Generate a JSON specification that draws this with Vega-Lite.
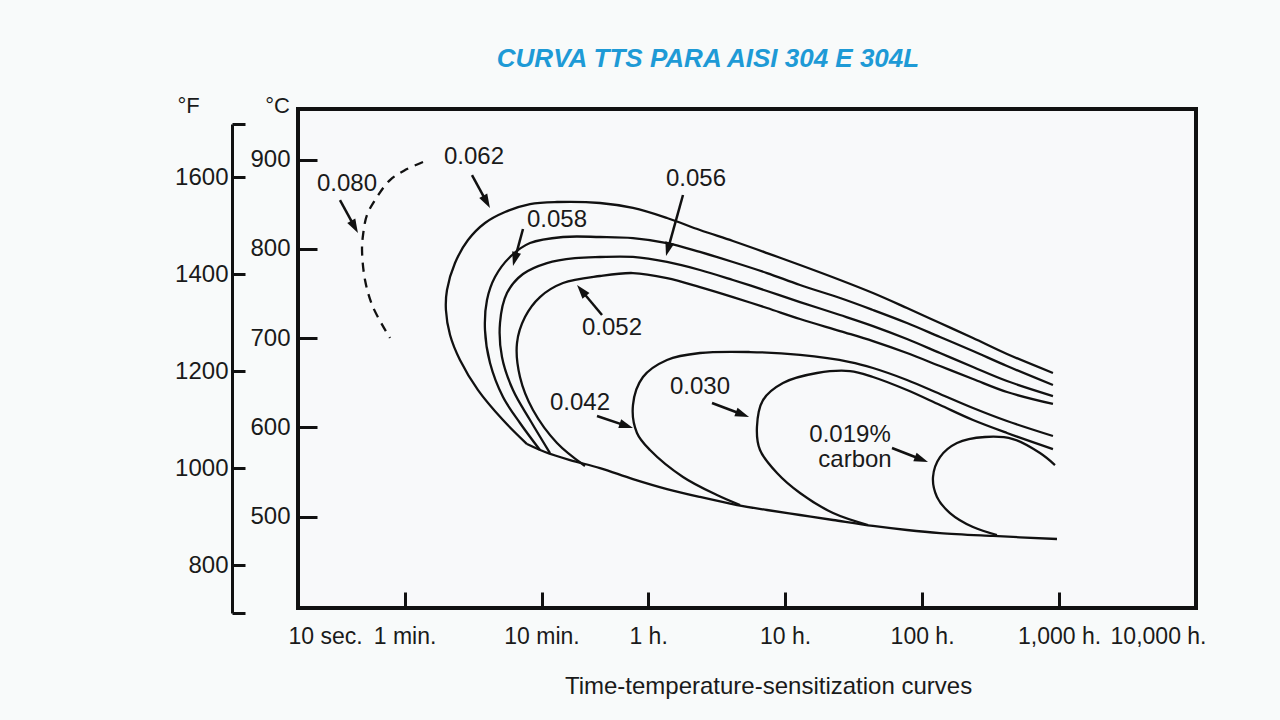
{
  "$schema": "https://vega.github.io/schema/vega-lite/v6.json",
  "autosize": {"type": "none"},
  "width": 898,
  "height": 499,
  "padding": {"left": 298, "top": 109, "right": 84, "bottom": 112},
  "background": "#f8fafa",
  "title": {
    "text": "CURVA TTS PARA AISI 304 E 304L",
    "font": "Liberation Sans",
    "fontSize": 26,
    "fontWeight": "bold",
    "fontStyle": "italic",
    "color": "#1e9ad6",
    "anchor": "middle",
    "frame": "group",
    "dx": -39,
    "offset": 22
  },
  "config": {
    "view": {"stroke": "#111111", "strokeWidth": 4, "fill": "#f8f9fa"},
    "font": "Liberation Sans"
  },
  "datasets": {
    "curves": [
      {"c":"0.062","i":1,"t":903,"T":660.8},{"c":"0.062","i":2,"t":417,"T":682.1},{"c":"0.062","i":3,"t":235.4,"T":700.0},{"c":"0.062","i":4,"t":135.2,"T":716.8},{"c":"0.062","i":5,"t":77.6,"T":733.6},{"c":"0.062","i":6,"t":43.8,"T":750.4},{"c":"0.062","i":7,"t":25.2,"T":765.0},{"c":"0.062","i":8,"t":12.85,"T":781.8},{"c":"0.062","i":9,"t":7.38,"T":795.2},{"c":"0.062","i":10,"t":4.16,"T":808.7},{"c":"0.062","i":11,"t":2.39,"T":821.0},{"c":"0.062","i":12,"t":1.373,"T":834.5},{"c":"0.062","i":13,"t":0.775,"T":845.7},{"c":"0.062","i":14,"t":0.4453,"T":851.3},{"c":"0.062","i":15,"t":0.2161,"T":852.4},{"c":"0.062","i":16,"t":0.1373,"T":850.1},{"c":"0.062","i":17,"t":0.0902,"T":841.2},{"c":"0.062","i":18,"t":0.0644,"T":828.9},{"c":"0.062","i":19,"t":0.0484,"T":809.8},{"c":"0.062","i":20,"t":0.0389,"T":784.0},{"c":"0.062","i":21,"t":0.0340,"T":753.8},{"c":"0.062","i":22,"t":0.0334,"T":731.4},{"c":"0.062","i":23,"t":0.0358,"T":703.4},{"c":"0.062","i":24,"t":0.0423,"T":675.4},{"c":"0.062","i":25,"t":0.0573,"T":641.7},{"c":"0.062","i":26,"t":0.0872,"T":608.1},{"c":"0.062","i":27,"t":0.1305,"T":581.2},
      {"c":"env","i":1,"t":0.1305,"T":581.2},{"c":"env","i":2,"t":0.1766,"T":572.3},{"c":"env","i":3,"t":0.2689,"T":563.3},{"c":"env","i":4,"t":0.4453,"T":554.3},{"c":"env","i":5,"t":0.775,"T":542.0},{"c":"env","i":6,"t":1.373,"T":530.8},{"c":"env","i":7,"t":2.39,"T":521.9},{"c":"env","i":8,"t":4.46,"T":512.9},{"c":"env","i":9,"t":7.38,"T":507.3},{"c":"env","i":10,"t":12.85,"T":501.7},{"c":"env","i":11,"t":22.4,"T":496.1},{"c":"env","i":12,"t":43.8,"T":489.4},{"c":"env","i":13,"t":77.6,"T":484.9},{"c":"env","i":14,"t":135.2,"T":481.5},{"c":"env","i":15,"t":329.5,"T":478.2},{"c":"env","i":16,"t":966,"T":474.8},
      {"c":"0.058","i":1,"t":903,"T":647.3},{"c":"0.058","i":2,"t":417,"T":668.6},{"c":"0.058","i":3,"t":235.4,"T":685.4},{"c":"0.058","i":4,"t":135.2,"T":701.1},{"c":"0.058","i":5,"t":77.6,"T":716.8},{"c":"0.058","i":6,"t":43.8,"T":731.4},{"c":"0.058","i":7,"t":25.2,"T":744.8},{"c":"0.058","i":8,"t":12.85,"T":759.4},{"c":"0.058","i":9,"t":7.38,"T":772.8},{"c":"0.058","i":10,"t":4.16,"T":785.2},{"c":"0.058","i":11,"t":2.39,"T":796.4},{"c":"0.058","i":12,"t":1.373,"T":806.4},{"c":"0.058","i":13,"t":0.775,"T":812.0},{"c":"0.058","i":14,"t":0.4453,"T":813.2},{"c":"0.058","i":15,"t":0.239,"T":813.2},{"c":"0.058","i":16,"t":0.1373,"T":806.4},{"c":"0.058","i":17,"t":0.0981,"T":790.8},{"c":"0.058","i":18,"t":0.0762,"T":768.3},{"c":"0.058","i":19,"t":0.0666,"T":742.6},{"c":"0.058","i":20,"t":0.0644,"T":709.0},{"c":"0.058","i":21,"t":0.0701,"T":672.0},{"c":"0.058","i":22,"t":0.0872,"T":633.9},{"c":"0.058","i":23,"t":0.116,"T":604.8},{"c":"0.058","i":24,"t":0.1623,"T":574.5},
      {"c":"0.056","i":1,"t":903,"T":635.0},{"c":"0.056","i":2,"t":417,"T":651.8},{"c":"0.056","i":3,"t":235.4,"T":667.5},{"c":"0.056","i":4,"t":135.2,"T":683.2},{"c":"0.056","i":5,"t":77.6,"T":698.9},{"c":"0.056","i":6,"t":43.8,"T":713.4},{"c":"0.056","i":7,"t":25.2,"T":725.8},{"c":"0.056","i":8,"t":12.85,"T":740.3},{"c":"0.056","i":9,"t":7.38,"T":752.7},{"c":"0.056","i":10,"t":4.16,"T":765.0},{"c":"0.056","i":11,"t":2.39,"T":776.2},{"c":"0.056","i":12,"t":1.373,"T":785.2},{"c":"0.056","i":13,"t":0.775,"T":790.8},{"c":"0.056","i":14,"t":0.4453,"T":790.8},{"c":"0.056","i":15,"t":0.2924,"T":789.6},{"c":"0.056","i":16,"t":0.1826,"T":784.0},{"c":"0.056","i":17,"t":0.122,"T":771.7},{"c":"0.056","i":18,"t":0.0932,"T":750.4},{"c":"0.056","i":19,"t":0.0829,"T":716.8},{"c":"0.056","i":20,"t":0.0857,"T":678.7},{"c":"0.056","i":21,"t":0.1031,"T":641.7},{"c":"0.056","i":22,"t":0.1373,"T":608.1},{"c":"0.056","i":23,"t":0.1921,"T":571.1},
      {"c":"0.052","i":1,"t":903,"T":626.1},{"c":"0.052","i":2,"t":417,"T":639.5},{"c":"0.052","i":3,"t":235.4,"T":654.1},{"c":"0.052","i":4,"t":135.2,"T":668.6},{"c":"0.052","i":5,"t":77.6,"T":683.2},{"c":"0.052","i":6,"t":43.8,"T":696.6},{"c":"0.052","i":7,"t":25.2,"T":707.8},{"c":"0.052","i":8,"t":12.85,"T":721.3},{"c":"0.052","i":9,"t":7.38,"T":733.6},{"c":"0.052","i":10,"t":4.16,"T":745.9},{"c":"0.052","i":11,"t":2.39,"T":757.1},{"c":"0.052","i":12,"t":1.373,"T":767.2},{"c":"0.052","i":13,"t":0.775,"T":772.8},{"c":"0.052","i":14,"t":0.4453,"T":769.5},{"c":"0.052","i":15,"t":0.239,"T":761.6},{"c":"0.052","i":16,"t":0.1623,"T":745.9},{"c":"0.052","i":17,"t":0.1262,"T":723.5},{"c":"0.052","i":18,"t":0.1103,"T":694.4},{"c":"0.052","i":19,"t":0.116,"T":656.3},{"c":"0.052","i":20,"t":0.1443,"T":619.3},{"c":"0.052","i":21,"t":0.2161,"T":582.4},{"c":"0.052","i":22,"t":0.3459,"T":556.6},
      {"c":"0.042","i":1,"t":903,"T":590.2},{"c":"0.042","i":2,"t":417,"T":607.0},{"c":"0.042","i":3,"t":235.4,"T":621.6},{"c":"0.042","i":4,"t":135.2,"T":637.3},{"c":"0.042","i":5,"t":77.6,"T":653.0},{"c":"0.042","i":6,"t":43.8,"T":666.4},{"c":"0.042","i":7,"t":29.8,"T":673.1},{"c":"0.042","i":8,"t":12.85,"T":681.0},{"c":"0.042","i":9,"t":5.54,"T":684.3},{"c":"0.042","i":10,"t":2.39,"T":683.2},{"c":"0.042","i":11,"t":1.373,"T":675.4},{"c":"0.042","i":12,"t":0.917,"T":656.3},{"c":"0.042","i":13,"t":0.775,"T":624.9},{"c":"0.042","i":14,"t":0.829,"T":593.6},{"c":"0.042","i":15,"t":1.032,"T":574.5},{"c":"0.042","i":16,"t":1.797,"T":544.3},{"c":"0.042","i":17,"t":3.18,"T":524.1},{"c":"0.042","i":18,"t":4.69,"T":512.9},
      {"c":"0.030","i":1,"t":903,"T":575.6},{"c":"0.030","i":2,"t":417,"T":593.6},{"c":"0.030","i":3,"t":235.4,"T":608.1},{"c":"0.030","i":4,"t":135.2,"T":624.9},{"c":"0.030","i":5,"t":77.6,"T":641.7},{"c":"0.030","i":6,"t":43.8,"T":656.3},{"c":"0.030","i":7,"t":29.8,"T":663.0},{"c":"0.030","i":8,"t":17.1,"T":660.8},{"c":"0.030","i":9,"t":9.65,"T":649.6},{"c":"0.030","i":10,"t":6.9,"T":630.5},{"c":"0.030","i":11,"t":6.23,"T":600.3},{"c":"0.030","i":12,"t":6.56,"T":574.5},{"c":"0.030","i":13,"t":8.73,"T":548.7},{"c":"0.030","i":14,"t":12.85,"T":526.3},{"c":"0.030","i":15,"t":22.4,"T":503.9},{"c":"0.030","i":16,"t":40.3,"T":490.5},
      {"c":"0.019","i":1,"t":934,"T":557.7},{"c":"0.019","i":2,"t":726,"T":571.1},{"c":"0.019","i":3,"t":461,"T":586.8},{"c":"0.019","i":4,"t":288.0,"T":589.1},{"c":"0.019","i":5,"t":179.9,"T":582.4},{"c":"0.019","i":6,"t":135.2,"T":566.6},{"c":"0.019","i":7,"t":120.2,"T":544.3},{"c":"0.019","i":8,"t":128.5,"T":521.9},{"c":"0.019","i":9,"t":159.9,"T":503.9},{"c":"0.019","i":10,"t":235.4,"T":488.2},{"c":"0.019","i":11,"t":352.4,"T":479.3},
      {"c":"0.080","i":1,"t":0.02272,"T":897.2},{"c":"0.080","i":2,"t":0.01679,"T":888.2},{"c":"0.080","i":3,"t":0.01304,"T":877.0},{"c":"0.080","i":4,"t":0.01048,"T":858.0},{"c":"0.080","i":5,"t":0.00886,"T":837.8},{"c":"0.080","i":6,"t":0.00829,"T":815.4},{"c":"0.080","i":7,"t":0.00815,"T":798.6},{"c":"0.080","i":8,"t":0.00857,"T":765.0},{"c":"0.080","i":9,"t":0.0098,"T":734.7},{"c":"0.080","i":10,"t":0.01304,"T":700.0}
    ],
    "arrows": [
      {"c":"0.080","t0":0.005627,"T0":854.6,"t":0.007195,"T":824.5,"dir":151.4},
      {"c":"0.062","t0":0.05177,"T0":882.6,"t":0.06616,"T":852.5,"dir":151.4},
      {"c":"0.058","t0":0.122,"T0":822.1,"t":0.1063,"T":788.3,"dir":195.1},
      {"c":"0.056","t0":1.797,"T0":860.2,"t":1.3941,"T":799.4,"dir":195.6},
      {"c":"0.052","t0":0.4606,"T0":725.8,"t":0.32631,"T":753.3,"dir":320.2},
      {"c":"0.042","t0":0.4233,"T0":612.6,"t":0.69368,"T":601.6,"dir":108.4},
      {"c":"0.030","t0":2.926,"T0":627.2,"t":4.8869,"T":614.3,"dir":110.7},
      {"c":"0.019","t0":60.32,"T0":576.8,"t":99.04,"T":563.9,"dir":111.3}
    ],
    "labels": [
      {"label":"0.080","t":0.00633,"T":872.5},
      {"label":"0.062","t":0.05355,"T":902.8},
      {"label":"0.056","t":2.236,"T":878.2},
      {"label":"0.058","t":0.2161,"T":832.2},
      {"label":"0.052","t":0.545,"T":711.2},
      {"label":"0.042","t":0.3181,"T":627.2},
      {"label":"0.030","t":2.39,"T":645.1},
      {"label":"0.019%","t":29.8,"T":591.3},
      {"label":"carbon","t":32.38,"T":563.3}
    ],
    "fticks": [{"F": 702}, {"F": 1710}]
  },
  "layer": [
    {
      "encoding": {
        "x": {
          "field": "t",
          "type": "quantitative",
          "scale": {"type": "log", "domain": [0.0027778, 10000], "nice": false},
          "axis": {
            "values": [0.0027778, 0.0166667, 0.1666667, 1, 10, 100, 1000, 10000],
            "labelExpr": "datum.value < 0.01 ? '10 sec.' : datum.value < 0.1 ? '1 min.' : datum.value < 0.5 ? '10 min.' : datum.value < 5 ? '1 h.' : datum.value < 50 ? '10 h.' : datum.value < 500 ? '100 h.' : datum.value < 5000 ? '1,000 h.' : '10,000 h.'",
            "domain": false,
            "grid": false,
            "tickSize": -16,
            "tickWidth": 3,
            "tickColor": "#111111",
            "labelPadding": 33,
            "labelFont": "Liberation Sans",
            "labelFontSize": 23,
            "labelColor": "#1a1a1a",
            "labelFlush": true,
            "labelFlushOffset": 10,
            "labelOverlap": false,
            "labelBound": false,
            "title": "Time-temperature-sensitization curves",
            "titleFont": "Liberation Sans",
            "titleFontSize": 24,
            "titleFontWeight": "normal",
            "titleColor": "#1a1a1a",
            "titleX": 470,
            "titleY": 78,
            "titleAlign": "center",
            "titleBaseline": "middle"
          }
        },
        "y": {
          "field": "T",
          "type": "quantitative",
          "scale": {"domain": [397.5, 956.6], "nice": false, "zero": false},
          "axis": {
            "values": [500, 600, 700, 800, 900],
            "domain": false,
            "grid": false,
            "tickSize": -19,
            "tickWidth": 3,
            "tickColor": "#111111",
            "labelPadding": 27,
            "labelFont": "Liberation Sans",
            "labelFontSize": 24,
            "labelColor": "#1a1a1a",
            "labelFlush": false,
            "labelOverlap": false,
            "title": "°C",
            "titleFont": "Liberation Sans",
            "titleFontSize": 22,
            "titleFontWeight": "normal",
            "titleColor": "#1a1a1a",
            "titleAngle": 0,
            "titleX": -21,
            "titleY": -4,
            "titleAlign": "center",
            "titleBaseline": "middle"
          }
        }
      },
      "layer": [
        {
          "data": {"name": "curves"},
          "transform": [{"filter": "datum.c != '0.080'"}],
          "mark": {"type": "line", "color": "#111111", "strokeWidth": 2.3, "interpolate": "catmull-rom"},
          "encoding": {
            "detail": {"field": "c", "type": "nominal"},
            "order": {"field": "i", "type": "quantitative"}
          }
        },
        {
          "data": {"name": "curves"},
          "transform": [{"filter": "datum.c == '0.080'"}],
          "mark": {"type": "line", "color": "#111111", "strokeWidth": 2.3, "interpolate": "catmull-rom", "strokeDash": [9, 7]},
          "encoding": {
            "detail": {"field": "c", "type": "nominal"},
            "order": {"field": "i", "type": "quantitative"}
          }
        },
        {
          "data": {"name": "arrows"},
          "mark": {"type": "rule", "color": "#111111", "strokeWidth": 2.5},
          "encoding": {
            "x2": {"field": "t0"},
            "y2": {"field": "T0"}
          }
        },
        {
          "data": {"name": "arrows"},
          "mark": {"type": "point", "shape": "M0,-1L0.65,1L-0.65,1Z", "size": 196, "filled": true, "color": "#111111", "opacity": 1},
          "encoding": {
            "angle": {"field": "dir", "type": "quantitative", "scale": null}
          }
        },
        {
          "data": {"name": "labels"},
          "mark": {"type": "text", "font": "Liberation Sans", "fontSize": 24, "color": "#1a1a1a", "align": "center", "baseline": "middle"},
          "encoding": {
            "text": {"field": "label", "type": "nominal"}
          }
        }
      ]
    },
    {
      "data": {"name": "fticks"},
      "mark": {"type": "point", "opacity": 0},
      "encoding": {
        "y": {
          "field": "F",
          "type": "quantitative",
          "scale": {"domain": [702, 1710], "range": [504, 15], "nice": false, "zero": false},
          "axis": {
            "orient": "left",
            "offset": 66,
            "values": [702, 800, 1000, 1200, 1400, 1600, 1710],
            "format": "d",
            "labelExpr": "datum.value < 750 || datum.value > 1700 ? '' : datum.label",
            "domain": true,
            "domainColor": "#111111",
            "domainWidth": 3,
            "grid": false,
            "tickSize": -13,
            "tickWidth": 3,
            "tickColor": "#111111",
            "labelPadding": 17,
            "labelFont": "Liberation Sans",
            "labelFontSize": 24,
            "labelColor": "#1a1a1a",
            "labelFlush": false,
            "labelOverlap": false,
            "title": "°F",
            "titleFont": "Liberation Sans",
            "titleFontSize": 22,
            "titleFontWeight": "normal",
            "titleColor": "#1a1a1a",
            "titleAngle": 0,
            "titleX": -44,
            "titleY": -4,
            "titleAlign": "center",
            "titleBaseline": "middle"
          }
        }
      }
    }
  ],
  "resolve": {"scale": {"y": "independent"}, "axis": {"y": "independent"}}
}
